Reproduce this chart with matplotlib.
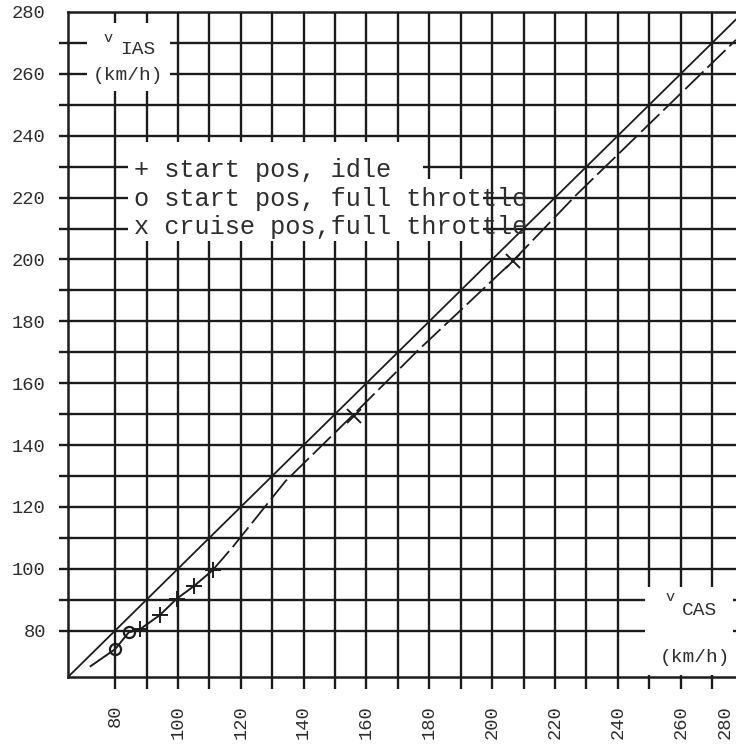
import matplotlib
matplotlib.use("Agg")
import matplotlib.pyplot as plt
from matplotlib.patches import Rectangle

plt.rcParams['font.family'] = ['Liberation Mono', 'DejaVu Sans Mono']

# reference line IAS = CAS
ref_speed = [65, 280]

# calibration curve, CAS (x) vs IAS (y), km/h
low_cas = [72.2, 80.0, 84.3, 88.0, 94.2, 99.6, 105.1, 111.0]
low_ias = [68.5, 74.0, 79.4, 80.5, 85.0, 90.3, 94.4, 99.5]
high_cas = [111.0, 117.4, 134.2, 156.0, 176.3, 206.5, 226.9, 277.6]
high_ias = [99.5, 107.0, 128.3, 150.0, 170.5, 199.4, 221.0, 271.0]

# measured points
idle_cas = [88.0, 94.2, 99.6, 105.1, 111.0]
idle_ias = [80.5, 85.0, 90.3, 94.4, 99.5]
full_cas = [80.0, 84.3]
full_ias = [74.0, 79.4]
cruise_cas = [156.0, 206.5]
cruise_ias = [149.5, 199.4]

legend_rows = ["+ start pos, idle",
               "o start pos, full throttle",
               "x cruise pos,full throttle"]

y_ticks = list(range(80, 281, 20))
x_ticks = [80, 100, 120, 140, 160, 180, 200, 220, 240, 260, 274]
x_tick_labels = ["80", "100", "120", "140", "160", "180", "200",
                 "220", "240", "260", "280"]
grid_x = list(range(80, 271, 10))
grid_y = list(range(80, 271, 10))

INK = "#1c1c1c"
TXT = "#2e2e2e"

fig = plt.figure(figsize=(7.36, 7.44), dpi=100, facecolor="white")
ax = fig.add_axes([68 / 736, 67 / 744, 668 / 736, 665 / 744])
ax.set_xlim(65, 277.6)
ax.set_ylim(65, 280)

# graph paper grid, lines run a little past the left and bottom edges
ax.vlines(grid_x, 61.2, 280, colors=INK, lw=1.7, zorder=0.8, clip_on=False)
ax.hlines(grid_y, 62.1, 277.6, colors=INK, lw=1.7, zorder=0.8, clip_on=False)

ax.set_xticks(x_ticks)
ax.set_xticklabels(x_tick_labels, rotation=90)
ax.set_yticks(y_ticks)
ax.tick_params(length=0, labelsize=13.5, labelcolor=TXT)
ax.tick_params(axis="y", pad=16)
ax.tick_params(axis="x", pad=20)

for side in ["left", "bottom", "top"]:
    ax.spines[side].set_linewidth(1.8)
    ax.spines[side].set_color(INK)
ax.spines["right"].set_visible(False)

# white patches where the labels sit on the paper
for (x0, y0, x1, y1) in [(71, 254.5, 97.5, 276.5),
                         (84, 206, 197, 226),
                         (84, 226, 178, 238),
                         (248.5, 65.6, 276.5, 94)]:
    ax.add_patch(Rectangle((x0, y0), x1 - x0, y1 - y0, facecolor="white",
                           edgecolor="none", zorder=1))

# lines
ax.plot(ref_speed, ref_speed, color=INK, lw=1.3, zorder=3)
ax.plot(low_cas, low_ias, color=INK, lw=1.4, zorder=3)
ax.plot(high_cas, high_ias, color=INK, lw=1.3, dashes=(14, 3), zorder=3)

ax.plot(idle_cas, idle_ias, ls="none", marker="+", ms=11, mew=1.4,
        color=INK, zorder=4)
ax.plot(full_cas, full_ias, ls="none", marker="o", ms=8, mew=1.6,
        mfc="none", mec=INK, zorder=4)
ax.plot(cruise_cas, cruise_ias, ls="none", marker="x", ms=10, mew=1.4,
        color=INK, zorder=4)

# legend typed on the sheet
for row, y in zip(legend_rows, [229, 219.5, 210.5]):
    ax.text(86, y, row, fontsize=18.2, color=TXT, va="center", ha="left",
            zorder=5)

# axis titles
ax.text(77.7, 271.5, "v", fontsize=11, color=TXT, ha="center", va="center", zorder=5)
ax.text(87.3, 267.8, "IAS", fontsize=14, color=TXT, ha="center", va="center", zorder=5)
ax.text(84.0, 259.4, "(km/h)", fontsize=14, color=TXT, ha="center", va="center", zorder=5)

ax.text(256.6, 91.0, "v", fontsize=11, color=TXT, ha="center", va="center", zorder=5)
ax.text(266.0, 86.5, "CAS", fontsize=14, color=TXT, ha="center", va="center", zorder=5)
ax.text(264.4, 71.4, "(km/h)", fontsize=14, color=TXT, ha="center", va="center", zorder=5)

fig.savefig("out.png", dpi=100, facecolor="white")
